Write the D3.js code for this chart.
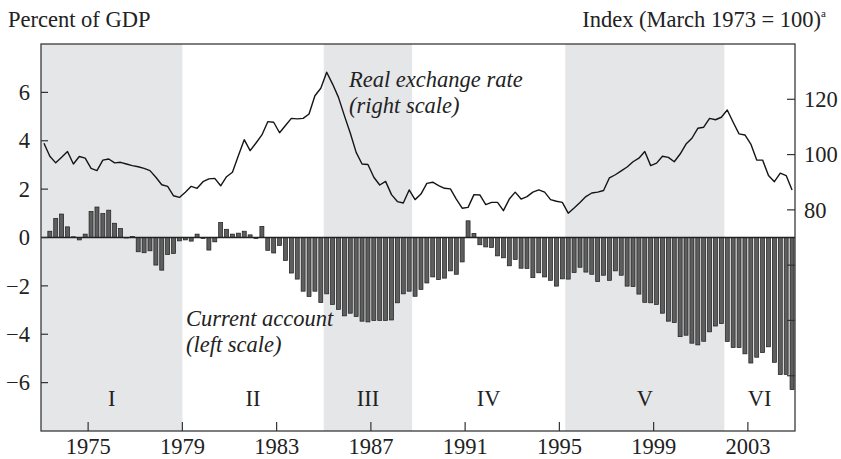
<!DOCTYPE html>
<html>
<head>
<meta charset="utf-8">
<script src="https://cdn.jsdelivr.net/npm/d3@7"></script>
<style>
  body { margin: 0; background: #fff; }
  svg text { font-family: "Liberation Serif", "Times New Roman", serif; fill: #222; }
</style>
</head>
<body>
<svg id="chart" width="841" height="459"></svg>
<script>
// quarterly, 1973Q1 .. 2004Q4
const startYear = 1973;

// current account, percent of GDP (left scale)
const currentAccount = [
  0, 0.26, 0.79, 0.97,
  0.44, 0.03, -0.10, 0.14,
  1.08, 1.26, 0.99, 1.13,
  0.59, 0.37, -0.02, 0.04,
  -0.59, -0.63, -0.55, -1.14,
  -1.35, -0.70, -0.66, -0.14,
  -0.10, -0.15, 0.14, -0.04,
  -0.52, -0.18, 0.62, 0.34,
  0.14, 0.18, 0.26, 0.11,
  -0.04, 0.46, -0.53, -0.64,
  -0.33, -0.95, -1.47, -1.72,
  -2.22, -2.44, -2.22, -2.69,
  -2.33, -2.77, -2.97, -3.24,
  -3.13, -3.27, -3.46, -3.49,
  -3.43, -3.43, -3.43, -3.41,
  -2.70, -2.33, -2.22, -2.43,
  -2.15, -1.88, -1.63, -1.74,
  -1.68, -1.38, -1.52, -1.01,
  0.69, 0.17, -0.30, -0.39,
  -0.41, -0.76, -0.84, -1.17,
  -0.91, -1.27, -1.28, -1.66,
  -1.46, -1.63, -1.77, -2.01,
  -1.71, -1.72, -1.45, -1.23,
  -1.43, -1.52, -1.82, -1.56,
  -1.77, -1.38, -1.56, -2.01,
  -2.03, -2.34, -2.68, -2.70,
  -2.77, -3.13, -3.46, -3.52,
  -4.10, -4.04, -4.37, -4.44,
  -4.29, -3.90, -3.66, -3.56,
  -4.30, -4.55, -4.55, -4.81,
  -5.19, -4.95, -4.76, -4.52,
  -5.16, -5.67, -5.66, -6.29
];

// real exchange rate index, March 1973 = 100 (right scale)
const realRate = [
  104.1, 99.4, 97.0, 99.0,
  101.1, 96.6, 99.3, 98.7,
  95.0, 94.2, 98.0, 98.4,
  97.0, 97.2, 96.6, 96.0,
  95.6, 95.0, 94.2, 91.8,
  89.1, 88.5, 85.1, 84.5,
  86.4, 88.5, 87.8, 90.2,
  91.2, 91.4, 88.7, 92.0,
  93.6, 99.6, 105.4, 101.4,
  104.2, 107.1, 111.9, 111.7,
  107.9, 110.5, 113.1, 112.9,
  113.1, 114.7, 121.3, 124.0,
  129.8, 125.5, 120.7, 114.1,
  107.8, 100.8, 96.6, 96.4,
  91.8, 89.0, 90.3, 85.5,
  83.0, 82.5, 87.2, 83.7,
  85.7, 89.6, 90.0, 88.8,
  87.8, 87.6, 83.9, 80.6,
  80.9, 85.5, 85.4, 81.9,
  82.7, 82.7, 79.7, 83.9,
  86.4, 83.9, 84.8, 86.4,
  87.2, 86.4, 83.7, 83.1,
  82.7, 78.8, 80.7, 82.7,
  84.8, 86.1, 86.4, 87.0,
  91.6, 92.7, 94.1, 95.5,
  97.4, 98.7, 101.1, 96.0,
  96.9, 99.4, 99.0, 97.4,
  100.2, 103.8, 105.9, 109.5,
  109.9, 113.1, 112.6, 113.5,
  116.1, 111.7, 107.5, 107.1,
  103.8, 98.0, 98.0, 92.4,
  90.2, 93.3, 92.4, 87.2
];

// adjustment episodes
const periodLabels = ["I", "II", "III", "IV", "V", "VI"];
const periodBreaks = [1973, 1979, 1985, 1988.75, 1995.25, 2002, 2005];
const shadedPeriods = ["I", "III", "V"];

const yearTicks = [1975, 1979, 1983, 1987, 1991, 1995, 1999, 2003];
const leftTicks = [6, 4, 2, 0, -2, -4, -6];
const rightTicks = [120, 100, 80, 60, 40, 20];
const rightLabelled = [120, 100, 80];

const svg = d3.select("#chart");
const pLeft = 41, pRight = 795, pTop = 44, pBottom = 431;

const x = d3.scaleLinear().domain([1973, 2005]).range([pLeft, pRight]);
const yL = d3.scaleLinear().domain([-8, 8]).range([pBottom, pTop]);
const yR = d3.scaleLinear().domain([0, 140]).range([pBottom, pTop]);

const qDate = i => startYear + i / 4 + 0.125;
const qw = x(1973.25) - x(1973);
const bw = qw * 0.68;

const periods = periodLabels.map((name, i) => ({
  name, from: periodBreaks[i], to: periodBreaks[i + 1]
}));

// shaded episodes
svg.append("g")
  .selectAll("rect")
  .data(periods.filter(d => shadedPeriods.includes(d.name)))
  .join("rect")
    .attr("x", d => x(d.from))
    .attr("y", pTop)
    .attr("width", d => x(d.to) - x(d.from))
    .attr("height", pBottom - pTop)
    .attr("fill", "#e5e6e8");

// current account bars
svg.append("g")
    .attr("fill", "#5e5e5e")
    .attr("stroke", "#1c1c1c")
    .attr("stroke-width", 0.7)
  .selectAll("rect")
  .data(currentAccount)
  .join("rect")
    .attr("x", (d, i) => x(qDate(i)) - bw / 2)
    .attr("y", d => yL(Math.max(0, d)))
    .attr("width", bw)
    .attr("height", d => Math.abs(yL(d) - yL(0)));

// zero line
svg.append("line")
    .attr("x1", pLeft).attr("x2", pRight)
    .attr("y1", yL(0)).attr("y2", yL(0))
    .attr("stroke", "#222")
    .attr("stroke-width", 1.3);

// real exchange rate
const line = d3.line()
    .x((d, i) => x(qDate(i)))
    .y(d => yR(d));

svg.append("path")
    .datum(realRate)
    .attr("fill", "none")
    .attr("stroke", "#151515")
    .attr("stroke-width", 1.4)
    .attr("stroke-linejoin", "round")
    .attr("d", line);

// frame
svg.append("rect")
    .attr("x", pLeft).attr("y", pTop)
    .attr("width", pRight - pLeft).attr("height", pBottom - pTop)
    .attr("fill", "none")
    .attr("stroke", "#3a3a3a")
    .attr("stroke-width", 1.3);

const fs = 22.5;

// left axis
const gL = svg.append("g");
gL.selectAll("line")
  .data(leftTicks)
  .join("line")
    .attr("x1", pLeft).attr("x2", pLeft + 7)
    .attr("y1", d => yL(d)).attr("y2", d => yL(d))
    .attr("stroke", "#333").attr("stroke-width", 1.2);
gL.selectAll("text")
  .data(leftTicks)
  .join("text")
    .attr("x", 30)
    .attr("y", d => yL(d))
    .attr("dy", "0.34em")
    .attr("text-anchor", "end")
    .attr("font-size", fs)
    .text(d => d < 0 ? "\u2212" + Math.abs(d) : d);

// right axis
const gR = svg.append("g");
gR.selectAll("line")
  .data(rightTicks)
  .join("line")
    .attr("x1", pRight - 8).attr("x2", pRight)
    .attr("y1", d => yR(d)).attr("y2", d => yR(d))
    .attr("stroke", "#333").attr("stroke-width", 1.2);
gR.selectAll("text")
  .data(rightLabelled)
  .join("text")
    .attr("x", pRight + 9)
    .attr("y", d => yR(d))
    .attr("dy", "0.34em")
    .attr("font-size", fs)
    .text(d => d);

// x axis
const gX = svg.append("g");
gX.selectAll("line")
  .data(yearTicks)
  .join("line")
    .attr("x1", d => x(d)).attr("x2", d => x(d))
    .attr("y1", pBottom).attr("y2", pBottom - 9)
    .attr("stroke", "#333").attr("stroke-width", 1.2);
gX.selectAll("text")
  .data(yearTicks)
  .join("text")
    .attr("x", d => x(d))
    .attr("y", 454)
    .attr("text-anchor", "middle")
    .attr("font-size", fs)
    .text(d => d);

// period labels
svg.append("g")
  .selectAll("text")
  .data(periods)
  .join("text")
    .attr("x", d => x((d.from + d.to) / 2))
    .attr("y", 406)
    .attr("text-anchor", "middle")
    .attr("font-size", fs)
    .text(d => d.name);

// axis titles
svg.append("text")
    .attr("x", 8).attr("y", 27)
    .attr("font-size", fs)
    .text("Percent of GDP");

const idx = svg.append("text")
    .attr("x", 826).attr("y", 27)
    .attr("text-anchor", "end")
    .attr("font-size", fs);
idx.append("tspan").text("Index (March 1973 = 100)");
idx.append("tspan")
    .attr("font-size", 11)
    .attr("dy", -10)
    .text("a");

// series notes
const note = (lines, x0, y0) => {
  svg.append("text")
      .attr("font-style", "italic")
      .attr("font-size", fs)
    .selectAll("tspan")
    .data(lines)
    .join("tspan")
      .attr("x", x0)
      .attr("y", (d, i) => y0 + i * 26)
      .text(d => d);
};
note(["Real exchange rate", "(right scale)"], 349, 87);
note(["Current account", "(left scale)"], 186, 326);
</script>
</body>
</html>
